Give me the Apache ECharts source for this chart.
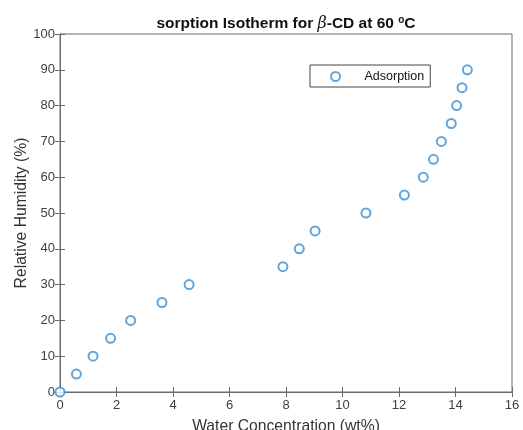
<!DOCTYPE html>
<html>
<head>
<meta charset="utf-8">
<script src="https://cdn.jsdelivr.net/npm/echarts@6/dist/echarts.min.js"></script>
<style>
html, body { margin: 0; padding: 0; background: #fff; }
#chart1 { width: 523px; height: 430px; }
</style>
</head>
<body>
<div id="chart1"></div>
<script>
// water concentration (wt%) vs relative humidity (%)
var waterConc = [0, 0.58, 1.17, 1.79, 2.50, 3.61, 4.57, 7.89, 8.47, 9.03, 10.83, 12.19, 12.86, 13.22, 13.50, 13.85, 14.04, 14.23, 14.42];
var humidity = [0, 5, 10, 15, 20, 25, 30, 35, 40, 45, 50, 55, 60, 65, 70, 75, 80, 85, 90];
var seriesName = 'Adsorption';

var myChart = echarts.init(document.getElementById("chart1"));
var font = 'Liberation Sans, Arial, sans-serif';
var axisColor = '#6b6b6b';

function makeData() {
	var d = [];
	for (var i = 0; i < waterConc.length; i++) {
		d.push([waterConc[i], humidity[i]]);
	}
	return d;
}

var option = {
	animation: false,
	textStyle: { fontFamily: font },
	title: {
		text: 'sorption Isotherm for {i|β}-CD at 60 {sup|o}C',
		left: 281,
		textAlign: 'center',
		top: 10,
		textStyle: {
			fontSize: 15.5,
			fontWeight: 'bold',
			color: '#111',
			fontFamily: font,
			rich: {
				i: { fontStyle: 'italic', fontSize: 16, fontWeight: 'normal', fontFamily: 'DejaVu Serif, serif', color: '#111' },
				sup: { fontSize: 10, fontWeight: 'bold', verticalAlign: 'top', padding: [0, 0, 8, 0], color: '#111' }
			}
		}
	},
	grid: {
		left: 60,
		right: 11,
		top: 34,
		bottom: 38,
		outerBoundsMode: 'none',
		show: true,
		borderColor: axisColor,
		borderWidth: 1
	},
	legend: {
		left: 310,
		top: 65,
		data: [seriesName],
		borderColor: '#444',
		borderWidth: 1,
		padding: [5, 6, 4, 20],
		itemWidth: 20,
		itemHeight: 9,
		itemGap: 10,
		textStyle: { fontSize: 12.5, color: '#111', fontFamily: font, padding: [0, 0, 0, 14] }
	},
	xAxis: [{
		type: 'value',
		min: 0,
		max: 16,
		interval: 2,
		name: 'Water Concentration (wt%)',
		nameLocation: 'middle',
		nameGap: 27,
		nameTextStyle: { fontSize: 15.7, color: '#333', fontFamily: font },
		axisLine: { show: true, lineStyle: { color: axisColor } },
		axisTick: { show: true, inside: true, length: 5, lineStyle: { color: axisColor } },
		axisLabel: { fontSize: 13, color: '#404040', margin: 7, fontFamily: font },
		splitLine: { show: false }
	}, {
		type: 'value',
		position: 'top',
		min: 0,
		max: 16,
		interval: 2,
		axisLine: { show: true, lineStyle: { color: axisColor } },
		axisTick: { show: true, inside: true, length: 5, lineStyle: { color: axisColor } },
		axisLabel: { show: false },
		splitLine: { show: false }
	}],
	yAxis: [{
		type: 'value',
		min: 0,
		max: 100,
		interval: 10,
		name: 'Relative Humidity (%)',
		nameLocation: 'middle',
		nameGap: 30,
		nameMoveOverlap: false,
		nameTextStyle: { fontSize: 15.7, color: '#333', fontFamily: font },
		axisLine: { show: true, lineStyle: { color: axisColor } },
		axisTick: { show: true, inside: true, length: 5, lineStyle: { color: axisColor } },
		axisLabel: { fontSize: 13, color: '#404040', margin: 5, fontFamily: font },
		splitLine: { show: false }
	}, {
		type: 'value',
		position: 'right',
		min: 0,
		max: 100,
		interval: 10,
		axisLine: { show: true, lineStyle: { color: axisColor } },
		axisTick: { show: true, inside: true, length: 5, lineStyle: { color: axisColor } },
		axisLabel: { show: false },
		splitLine: { show: false }
	}],
	series: [{
		name: seriesName,
		type: 'scatter',
		symbol: 'emptyCircle',
		symbolSize: 9,
		clip: false,
		itemStyle: { color: '#3a8fd4', borderColor: '#3a8fd4', borderWidth: 1.3 },
		data: makeData()
	}]
};
myChart.setOption(option);
</script>
</body>
</html>
